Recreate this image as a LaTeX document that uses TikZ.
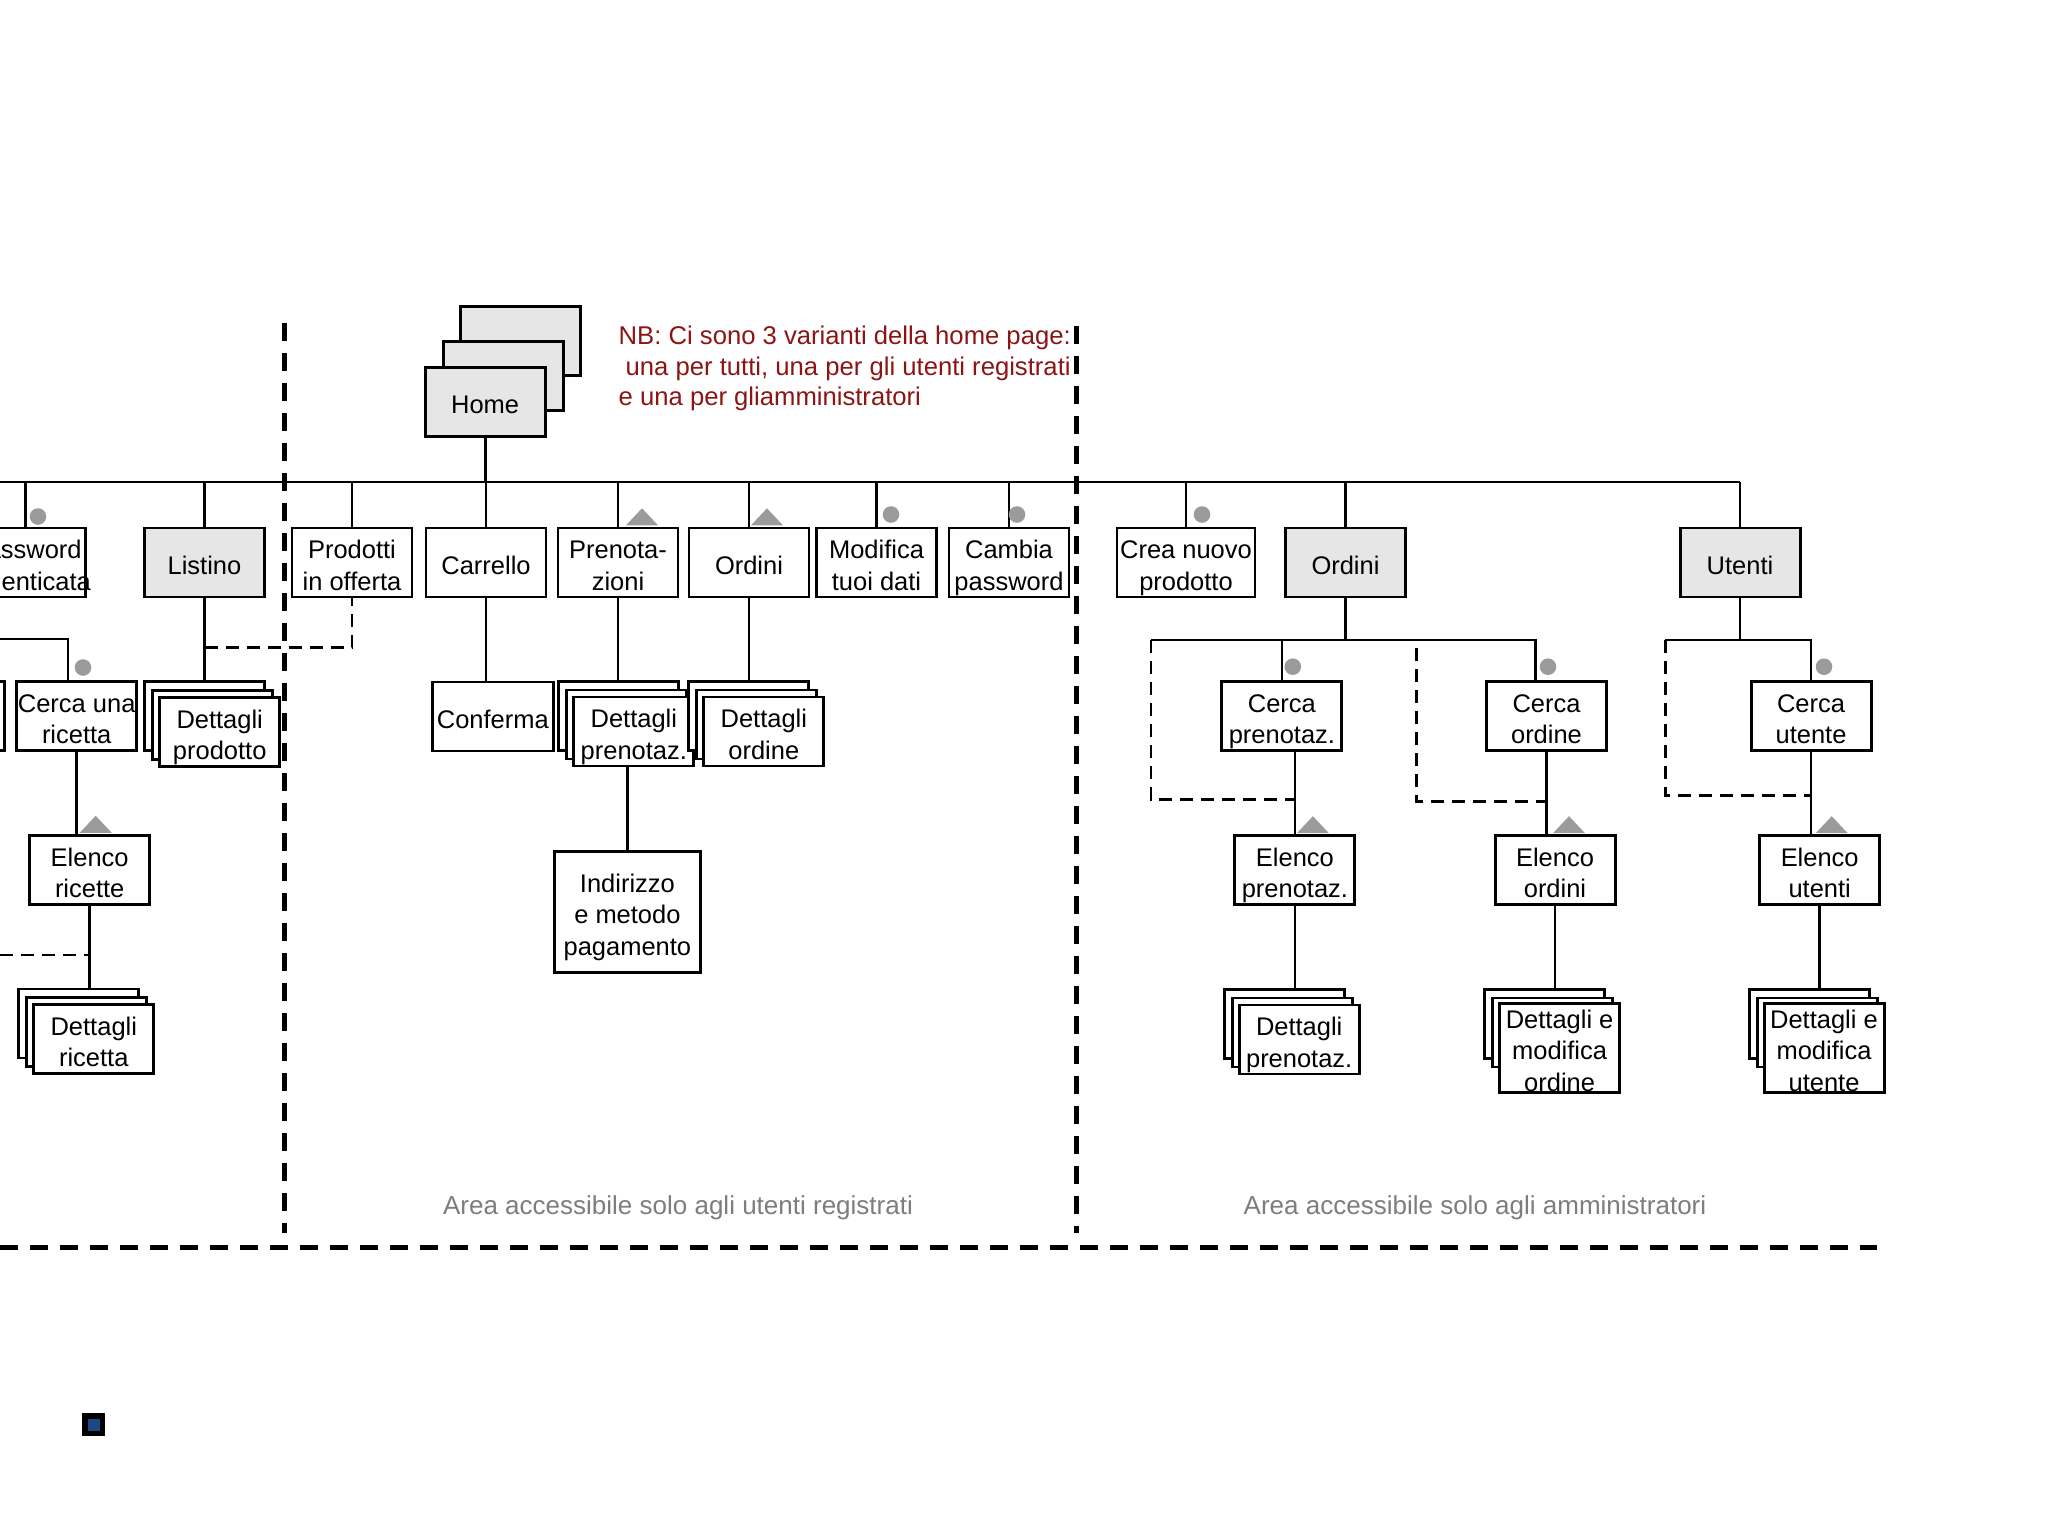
\documentclass[tikz,border=0pt]{standalone}
\usepackage{fontspec}
\setmainfont{Liberation Sans}
\usetikzlibrary{calc, positioning}

\definecolor{pagegray}{RGB}{230, 230, 230}
\definecolor{markgray}{RGB}{155, 155, 155}
\definecolor{notered}{RGB}{140, 20, 20}
\definecolor{areagray}{RGB}{125, 125, 125}
\definecolor{markblue}{RGB}{28, 72, 132}

\tikzset{
  pagebox/.style={draw, fill=white, line width=0.85pt, minimum width=1.2cm, minimum height=0.69cm, inner sep=0pt, align=center, font=\fontsize{7.25}{8.9}\selectfont, execute at begin node={\rule{0pt}{0.95em}}},
  mainbox/.style={pagebox, fill=pagegray},
  twoline/.style={text height=15.7pt, text depth=0pt},
  threeline/.style={text height=24.6pt, text depth=0pt},
  link/.style={line width=0.8pt},
  optlink/.style={line width=0.85pt, dash pattern=on 0.13cm off 0.08cm},
  arealine/.style={line width=1.3pt, dash pattern=on 0.18cm off 0.12cm},
}

\begin{document}
\begin{tikzpicture}
  \useasboundingbox (0, 0) rectangle (20.48, -15.36);
  \clip (0, 0) rectangle (20.48, -15.36);

  % Home, three variants
  \node[mainbox] (home3) at (5.205, -3.41) {};
  \node[mainbox, anchor=north west] (home2) at ([shift={(-0.17,-0.347)}]home3.north west) {};
  \node[mainbox, anchor=north west] (home) at ([shift={(-0.354,-0.607)}]home3.north west) {Home};

  \node[anchor=north west, align=left, text=notered, inner sep=0pt, font=\fontsize{7.3}{8.75}\selectfont] (nb) at (6.18, -3.25) {NB: Ci sono 3 varianti della home page:\\\hspace*{0.07cm}una per tutti, una per gli utenti registrati\\e una per gliamministratori};

  % First level
  \node[pagebox, twoline] (pwd) at (0.257, -5.625) {Password\\\makebox[0pt]{dimenticata}};
  \node[mainbox] (listino) at (2.045, -5.625) {Listino};
  \node[pagebox, twoline] (offerta) at (3.52, -5.625) {Prodotti\\in offerta};
  \node[pagebox] (carrello) at (4.86, -5.625) {Carrello};
  \node[pagebox, twoline] (pren) at (6.18, -5.625) {Prenota-\\zioni};
  \node[pagebox] (ord) at (7.49, -5.625) {Ordini};
  \node[pagebox, twoline] (modif) at (8.765, -5.625) {Modifica\\tuoi dati};
  \node[pagebox, twoline] (cambia) at (10.09, -5.625) {Cambia\\password};
  \node[pagebox, twoline, minimum width=1.38cm] (crea) at (11.86, -5.625) {Crea nuovo\\prodotto};
  \node[mainbox] (aord) at (13.455, -5.625) {Ordini};
  \node[mainbox] (utenti) at (17.40, -5.625) {Utenti};

  \coordinate (busL) at (0, -4.82);
  \draw[link] (busL) -- (busL -| utenti.north);
  \draw[link] (home.south) -- (home.south |- busL);
  \draw[link] (pwd.north) -- (pwd.north |- busL);
  \draw[link] (listino.north) -- (listino.north |- busL);
  \draw[link] (offerta.north) -- (offerta.north |- busL);
  \draw[link] (carrello.north) -- (carrello.north |- busL);
  \draw[link] (pren.north) -- (pren.north |- busL);
  \draw[link] (ord.north) -- (ord.north |- busL);
  \draw[link] (modif.north) -- (modif.north |- busL);
  \draw[link] (cambia.north) -- (cambia.north |- busL);
  \draw[link] (crea.north) -- (crea.north |- busL);
  \draw[link] (aord.north) -- (aord.north |- busL);
  \draw[link] (utenti.north) -- (utenti.north |- busL);

  % Ricette
  \node[pagebox] (ricx) at (-0.553, -7.164) {};
  \node[pagebox, twoline] (cric) at (0.767, -7.164) {Cerca una\\ricetta};
  \node[pagebox, twoline] (elric) at (0.897, -8.70) {Elenco\\ricette};
  \node[pagebox] (dric3) at (0.788, -10.235) {};
  \node[pagebox, anchor=north west] (dric2) at ([shift={(0.08,-0.085)}]dric3.north west) {};
  \node[pagebox, twoline, anchor=north west] (dric) at ([shift={(0.15,-0.155)}]dric3.north west) {Dettagli\\ricetta};
  \coordinate (ricbus) at (0, -6.39);
  \coordinate (ricfree) at (0, -9.55);
  \draw[link] (ricbus) -| ([xshift=-0.087cm]cric.north);
  \draw[link] (cric.south) -- (cric.south |- elric.north);
  \draw[link] (elric.south) -- (elric.south |- dric3.north);
  \draw[optlink] (ricfree) -- (ricfree -| elric.south);

  % Listino
  \node[pagebox] (dprod3) at (2.047, -7.164) {};
  \node[pagebox, anchor=north west] (dprod2) at ([shift={(0.08,-0.085)}]dprod3.north west) {};
  \node[pagebox, twoline, anchor=north west] (dprod) at ([shift={(0.15,-0.155)}]dprod3.north west) {Dettagli\\prodotto};
  \draw[link] (listino.south) -- (listino.south |- dprod3.north);
  \draw[optlink] ($(listino.south)!0.6!(dprod3.north)$) -| (offerta.south);

  % Carrello
  \node[pagebox, minimum width=1.21cm] (conferma) at (4.928, -7.165) {Conferma};
  \draw[link] (carrello.south) -- (carrello.south |- conferma.north);

  % Prenotazioni
  \node[pagebox] (dpr3) at (6.188, -7.16) {};
  \node[pagebox, anchor=north west] (dpr2) at ([shift={(0.08,-0.085)}]dpr3.north west) {};
  \node[pagebox, twoline, anchor=north west] (dpr) at ([shift={(0.15,-0.155)}]dpr3.north west) {Dettagli\\prenotaz.};
  \node[pagebox, threeline, minimum width=1.467cm, minimum height=1.217cm] (indir) at (6.274, -9.119) {Indirizzo\\e metodo\\pagamento};
  \draw[link] (pren.south) -- (pren.south |- dpr3.north);
  \draw[link] (dpr.south -| indir.north) -- (indir.north);

  % Ordini
  \node[pagebox] (dord3) at (7.488, -7.16) {};
  \node[pagebox, anchor=north west] (dord2) at ([shift={(0.08,-0.085)}]dord3.north west) {};
  \node[pagebox, twoline, anchor=north west] (dord) at ([shift={(0.15,-0.155)}]dord3.north west) {Dettagli\\ordine};
  \draw[link] (ord.south) -- (ord.south |- dord3.north);

  % Admin: ordini
  \node[pagebox, twoline] (cpren) at (12.819, -7.164) {Cerca\\prenotaz.};
  \node[pagebox, twoline] (cord) at (15.465, -7.164) {Cerca\\ordine};
  \node[pagebox, twoline] (elpren) at (12.949, -8.704) {Elenco\\prenotaz.};
  \node[pagebox, twoline] (elord) at (15.55, -8.704) {Elenco\\ordini};
  \node[pagebox] (dpren3) at (12.842, -10.24) {};
  \node[pagebox, anchor=north west] (dpren2) at ([shift={(0.08,-0.085)}]dpren3.north west) {};
  \node[pagebox, twoline, anchor=north west] (dpren) at ([shift={(0.15,-0.155)}]dpren3.north west) {Dettagli\\prenotaz.};
  \node[pagebox] (dordm3) at (15.446, -10.24) {};
  \node[pagebox, anchor=north west] (dordm2) at ([shift={(0.08,-0.085)}]dordm3.north west) {};
  \node[pagebox, threeline, anchor=north west, minimum height=0.89cm] (dordm) at ([shift={(0.15,-0.14)}]dordm3.north west) {Dettagli e\\modifica\\ordine};
  \coordinate (obusL) at (11.51, -6.40);
  \coordinate (obusR) at (15.356, -6.40);
  \coordinate (ordfree) at (14.167, -6.48);
  \draw[link] (aord.south) -- (aord.south |- obusL);
  \draw[link] (obusL) -- (obusR) -- (obusR |- cord.north);
  \draw[link] (cpren.north) -- (cpren.north |- obusL);
  \draw[link] (cpren.south -| elpren.north) -- (elpren.north);
  \draw[link] (cord.south) -- (cord.south |- elord.north);
  \draw[link] (elpren.south) -- (elpren.south |- dpren3.north);
  \draw[link] (elord.south) -- (elord.south |- dordm3.north);
  \draw[optlink] (obusL) |- ($(cpren.south -| elpren.north)!0.58!(elpren.north)$);
  \draw[optlink] (ordfree) |- ($(cord.south)!0.6!(cord.south |- elord.north)$);

  % Admin: utenti
  \node[pagebox, twoline] (cut) at (18.11, -7.164) {Cerca\\utente};
  \node[pagebox, twoline] (elut) at (18.197, -8.704) {Elenco\\utenti};
  \node[pagebox] (dut3) at (18.09, -10.24) {};
  \node[pagebox, anchor=north west] (dut2) at ([shift={(0.08,-0.085)}]dut3.north west) {};
  \node[pagebox, threeline, anchor=north west, minimum height=0.89cm] (dut) at ([shift={(0.15,-0.14)}]dut3.north west) {Dettagli e\\modifica\\utente};
  \coordinate (ubusL) at (16.65, -6.40);
  \draw[link] (utenti.south) -- (utenti.south |- ubusL);
  \draw[link] (ubusL) -| (cut.north);
  \draw[link] (cut.south) -- (cut.south |- elut.north);
  \draw[link] (elut.south) -- (elut.south |- dut3.north);
  \draw[optlink] (ubusL) |- ($(cut.south)!0.52!(cut.south |- elut.north)$);

  % Login marks
  \fill[markgray] ([shift={(0.123,0.10)}]pwd.north) circle (0.083);
  \fill[markgray] ([shift={(0.145,0.12)}]modif.north) circle (0.083);
  \fill[markgray] ([shift={(0.08,0.12)}]cambia.north) circle (0.083);
  \fill[markgray] ([shift={(0.16,0.12)}]crea.north) circle (0.083);
  \fill[markgray] ([shift={(0.063,0.129)}]cric.north) circle (0.083);
  \fill[markgray] ([shift={(0.109,0.137)}]cpren.north) circle (0.083);
  \fill[markgray] ([shift={(0.015,0.137)}]cord.north) circle (0.083);
  \fill[markgray] ([shift={(0.13,0.137)}]cut.north) circle (0.083);

  % List marks
  \fill[markgray] ([shift={(0.24,0.012)}]pren.north) ++(-0.16,0) -- ++(0.16,0.17) -- ++(0.16,-0.17) -- cycle;
  \fill[markgray] ([shift={(0.18,0.012)}]ord.north) ++(-0.16,0) -- ++(0.16,0.17) -- ++(0.16,-0.17) -- cycle;
  \fill[markgray] ([shift={(0.06,0.012)}]elric.north) ++(-0.16,0) -- ++(0.16,0.17) -- ++(0.16,-0.17) -- cycle;
  \fill[markgray] ([shift={(0.18,0.012)}]elpren.north) ++(-0.16,0) -- ++(0.16,0.17) -- ++(0.16,-0.17) -- cycle;
  \fill[markgray] ([shift={(0.14,0.012)}]elord.north) ++(-0.16,0) -- ++(0.16,0.17) -- ++(0.16,-0.17) -- cycle;
  \fill[markgray] ([shift={(0.12,0.012)}]elut.north) ++(-0.16,0) -- ++(0.16,0.17) -- ++(0.16,-0.17) -- cycle;

  % Area borders
  \draw[arealine] (2.847, -3.23) -- (2.847, -12.33);
  \draw[arealine] (10.765, -3.26) -- (10.765, -12.33);
  \draw[arealine] (0, -12.477) -- (18.77, -12.477);
  \node[text=areagray, font=\fontsize{7.4}{8.9}\selectfont] (areareg) at (6.78, -12.08) {Area accessibile solo agli utenti registrati};
  \node[text=areagray, font=\fontsize{7.4}{8.9}\selectfont] (areaadm) at (14.75, -12.08) {Area accessibile solo agli amministratori};

  \fill[black] (0.823, -14.13) rectangle (1.05, -14.36);
  \fill[markblue] (0.88, -14.19) rectangle (0.998, -14.307);
\end{tikzpicture}
\end{document}
